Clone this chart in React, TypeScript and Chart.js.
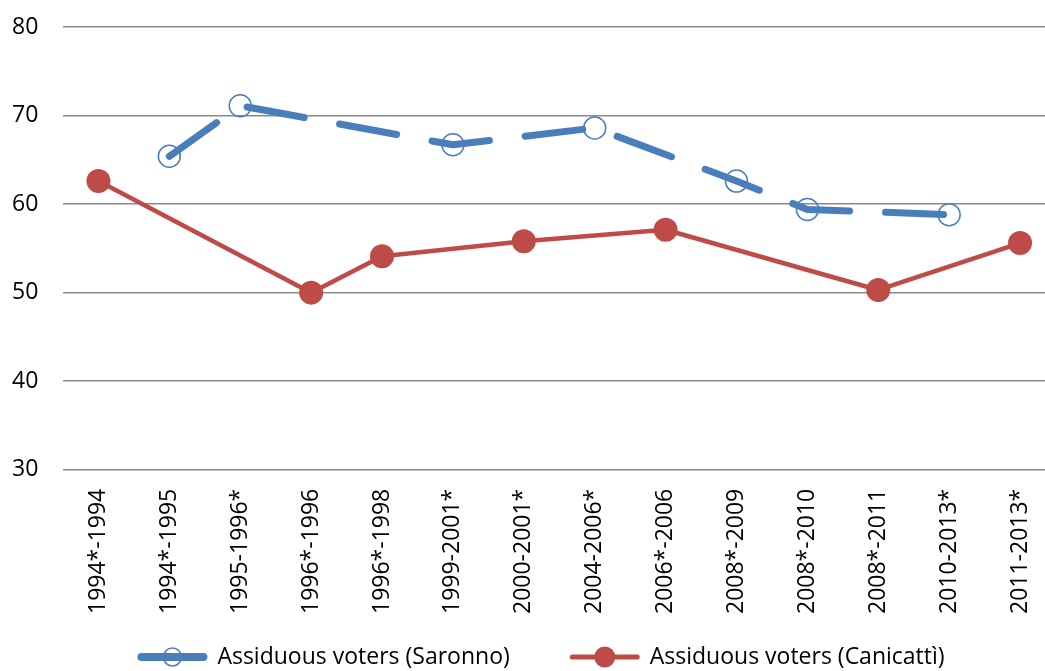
import React, { useEffect, useRef } from "react";
import { Chart, registerables } from "chart.js";

Chart.register(...registerables);

const categories = [
  "1994*-1994",
  "1994*-1995",
  "1995-1996*",
  "1996*-1996",
  "1996*-1998",
  "1999-2001*",
  "2000-2001*",
  "2004-2006*",
  "2006*-2006",
  "2008*-2009",
  "2008*-2010",
  "2008*-2011",
  "2010-2013*",
  "2011-2013*",
];

const saronno = [null, 65.4, 71.1, null, null, 66.7, null, 68.6, null, 62.6, 59.4, null, 58.8, null];
const canicatti = [62.6, null, null, 50.0, 54.1, null, 55.8, null, 57.1, null, null, 50.3, null, 55.6];

const seriesNames = ["Assiduous voters (Saronno)", "Assiduous voters (Canicattì)"];

const yMin = 30;
const yMax = 80;
const yStep = 10;

const BLUE = "#4a7ebb";
const RED = "#be4b48";
const FONT = "'Open Sans', sans-serif";

const legendPlugin = {
  id: "customLegend",
  afterDraw(chart: any) {
    const ctx = chart.ctx;
    const fontSize = 23;
    ctx.save();
    ctx.font = `${fontSize}px ${FONT}`;
    const iconW = 70;
    const gapIconText = 10;
    const gapItems = 60;
    const ds = chart.data.datasets;
    const widths = ds.map((d: any) => iconW + gapIconText + ctx.measureText(d.label).width);
    const total = widths.reduce((a: number, b: number) => a + b, 0) + gapItems * (ds.length - 1);
    const cy = chart.height - 14;
    let x = chart.width / 2 + 7 - total / 2;
    ds.forEach((d: any, i: number) => {
      const dashed = i === 0;
      ctx.strokeStyle = d.borderColor;
      ctx.lineCap = "round";
      ctx.lineWidth = dashed ? 8 : 5;
      ctx.beginPath();
      ctx.moveTo(x + ctx.lineWidth / 2, cy);
      ctx.lineTo(x + iconW - ctx.lineWidth / 2, cy);
      ctx.stroke();
      ctx.beginPath();
      ctx.arc(x + iconW / 2, cy, dashed ? 9 : 10.5, 0, Math.PI * 2);
      if (dashed) {
        ctx.lineWidth = 1.5;
        ctx.stroke();
      } else {
        ctx.fillStyle = d.borderColor;
        ctx.fill();
      }
      ctx.fillStyle = "#000";
      ctx.textBaseline = "middle";
      ctx.textAlign = "left";
      ctx.fillText(d.label, x + iconW + gapIconText, cy);
      x += widths[i] + gapItems;
    });
    ctx.restore();
  },
};

export default function App() {
  const ref = useRef<HTMLCanvasElement | null>(null);

  useEffect(() => {
    if (!ref.current) return;
    const chart = new Chart(ref.current, {
      type: "line",
      data: {
        labels: categories,
        datasets: [
          {
            label: seriesNames[0],
            data: saronno,
            borderColor: BLUE,
            backgroundColor: "rgba(0,0,0,0)",
            borderWidth: 7,
            borderDash: [58, 36],
            borderCapStyle: "round",
            borderJoinStyle: "round",
            pointRadius: 11,
            pointBorderWidth: 1.5,
            pointBorderColor: BLUE,
            pointBackgroundColor: "rgba(255,255,255,0)",
            spanGaps: true,
            tension: 0,
          },
          {
            label: seriesNames[1],
            data: canicatti,
            borderColor: RED,
            backgroundColor: RED,
            borderWidth: 4.5,
            borderCapStyle: "round",
            borderJoinStyle: "round",
            pointRadius: 12,
            pointBorderWidth: 0,
            pointBackgroundColor: RED,
            spanGaps: true,
            tension: 0,
          },
        ],
      },
      options: {
        responsive: false,
        animation: false,
        layout: { padding: { left: 12, right: 5, top: 27, bottom: 46 } },
        plugins: {
          tooltip: { enabled: false },
          legend: { display: false },
        },
        scales: {
          x: {
            offset: true,
            grid: { display: false },
            border: { display: false },
            ticks: {
              color: "#000",
              font: { family: FONT, size: 23 },
              minRotation: 90,
              maxRotation: 90,
              padding: 11,
              autoSkip: false,
            },
          },
          y: {
            min: yMin,
            max: yMax,
            afterFit: (s: any) => {
              s.width = 51;
            },
            grid: { color: "#898989", lineWidth: 1.5, drawTicks: false },
            border: { display: false },
            ticks: {
              stepSize: yStep,
              color: "#000",
              font: { family: FONT, size: 23 },
              padding: 0,
              crossAlign: "far",
            },
          },
        },
      },
      plugins: [legendPlugin],
    });
    return () => chart.destroy();
  }, []);

  return (
    <div style={{ position: "fixed", left: 0, top: 0, width: 1045, height: 671, overflow: "hidden", background: "#fff" }}>
      <canvas ref={ref} width={1068} height={671} style={{ display: "block" }} />
    </div>
  );
}
